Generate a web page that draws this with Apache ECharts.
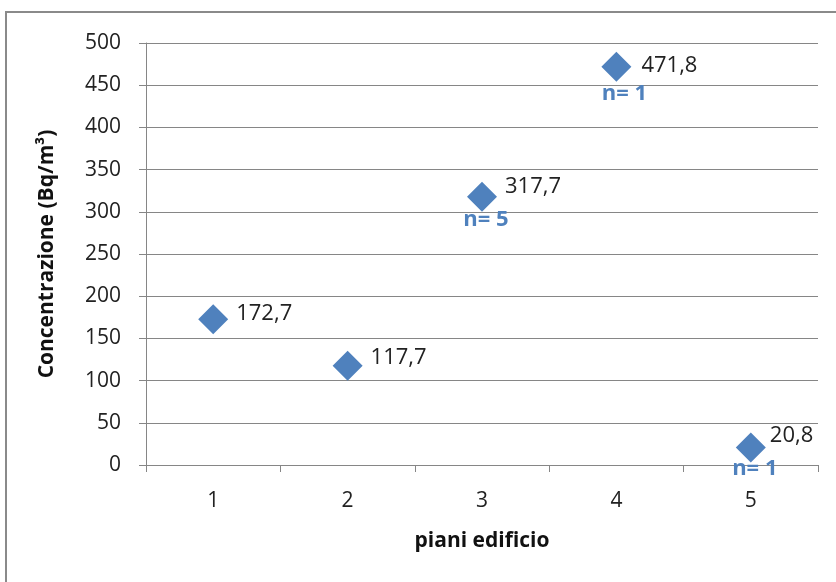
<!DOCTYPE html>
<html>
<head>
<meta charset="utf-8">
<script src="https://cdn.jsdelivr.net/npm/echarts@6/dist/echarts.min.js"></script>
<style>
  html, body { margin: 0; padding: 0; background: #fff; }
  #chart { width: 836px; height: 582px; }
</style>
</head>
<body>
<div id="chart"></div>
<script>
// Floors of the building and measured concentration per floor
const floors = ['1', '2', '3', '4', '5'];
const concentration = [172.7, 117.7, 317.7, 471.8, 20.8];
// Number of measurements (shown only where known)
const sampleCounts = [null, null, 5, 1, 1];
const yTicks = { min: 0, max: 500, interval: 50 };

const blue = '#4F81BD';
const font = '"Open Sans", Lato, sans-serif';

// Hand-placed label nudges (pixels) for each floor's labels
const valueLabelShift = [[0, -6], [0, -8], [0, -10], [2, -1], [-4, -12]];
const countLabelShift = [[0, 0], [0, 0], [4, 0], [8, 4], [4, -2]];

const fmtIt = v => String(v).replace('.', ',');

const valuePoints = concentration.map((v, i) => ({
  value: [floors[i], v],
  label: { offset: valueLabelShift[i] }
}));

const countPoints = concentration
  .map((v, i) => sampleCounts[i] == null ? null : {
    value: [floors[i], v],
    n: sampleCounts[i],
    label: { offset: countLabelShift[i] }
  })
  .filter(Boolean);

const chart = echarts.init(document.getElementById('chart'));
chart.setOption({
  animation: false,
  backgroundColor: '#fff',
  graphic: [{
    type: 'rect',
    shape: { x: 6, y: 12, width: 900, height: 700 },
    style: { fill: 'none', stroke: '#8a8a8a', lineWidth: 2 },
    silent: true,
    z: -1
  }],
  grid: { left: 146, right: 18, top: 43, bottom: 117 },
  xAxis: {
    type: 'category',
    data: floors,
    boundaryGap: true,
    name: 'piani edificio',
    nameLocation: 'middle',
    nameGap: 66,
    nameTextStyle: { fontFamily: font, fontSize: 21, fontWeight: 'bold', color: '#111' },
    axisLine: { lineStyle: { color: '#868686', width: 1 } },
    axisTick: { show: true, alignWithLabel: false, length: 7, lineStyle: { color: '#868686' } },
    axisLabel: { fontFamily: font, fontSize: 21, color: '#222', margin: 26 },
    splitLine: { show: false }
  },
  yAxis: {
    type: 'value',
    min: yTicks.min,
    max: yTicks.max,
    interval: yTicks.interval,
    name: 'Concentrazione (Bq/m³)',
    nameLocation: 'middle',
    nameGap: 88,
    nameRotate: 90,
    nameTextStyle: { fontFamily: font, fontSize: 21, fontWeight: 'bold', color: '#111' },
    axisLine: { show: true, lineStyle: { color: '#868686', width: 1 } },
    axisTick: { show: true, length: 7, lineStyle: { color: '#868686' } },
    axisLabel: { fontFamily: font, fontSize: 21, color: '#222', margin: 25 },
    splitLine: { show: true, lineStyle: { color: '#868686', width: 1 } }
  },
  series: [
    {
      type: 'scatter',
      data: valuePoints,
      symbol: 'diamond',
      symbolSize: [30, 30],
      itemStyle: { color: blue, opacity: 1 },
      label: {
        show: true,
        position: 'right',
        distance: 8,
        formatter: p => fmtIt(p.value[1]),
        fontFamily: font,
        fontSize: 22,
        color: '#222'
      },
      z: 3
    },
    {
      type: 'scatter',
      data: countPoints,
      symbolSize: 0,
      itemStyle: { color: blue, opacity: 1 },
      label: {
        show: true,
        position: 'bottom',
        distance: 12,
        formatter: p => 'n= ' + p.data.n,
        fontFamily: font,
        fontSize: 22,
        fontWeight: 'bold',
        color: blue,
        opacity: 1
      },
      z: 4
    }
  ]
});
</script>
</body>
</html>
